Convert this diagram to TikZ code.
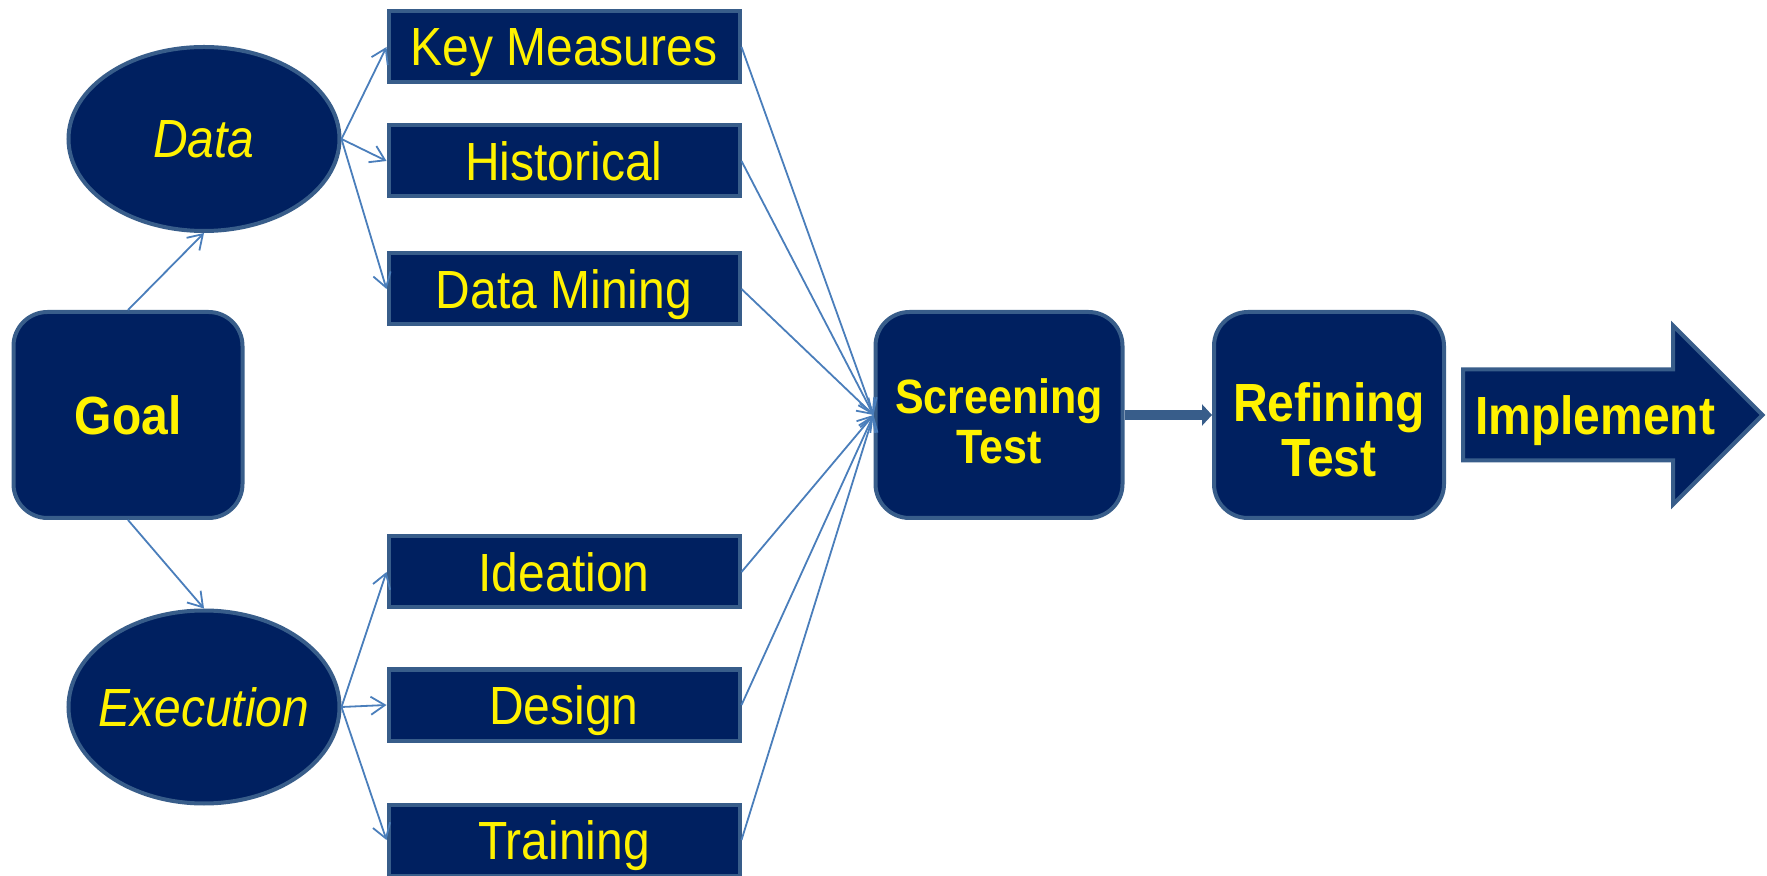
\documentclass[tikz,border=0pt]{standalone}
\usepackage{fontspec}
\setmainfont{Liberation Sans}
\usepackage{graphicx}
\usetikzlibrary{calc, positioning, shapes, arrows, arrows.meta}
\definecolor{navy}{RGB}{0,32,96}
\definecolor{rim}{RGB}{56,93,138}
\definecolor{linkblue}{RGB}{74,126,187}
\newcommand{\lbl}[1]{\scalebox{1}[1.12]{#1}}
\tikzstyle{block}=[draw=rim, fill=navy, line width=2pt, text=yellow, inner sep=0pt, text depth=0pt, font=\fontsize{24}{27}\selectfont]
\tikzstyle{item box}=[block, minimum width=175.5pt, minimum height=35.5pt]
\tikzstyle{stage}=[block, rounded corners=17pt, minimum height=103pt, align=center, font=\fontsize{24}{27.5}\selectfont\bfseries]
\tikzstyle{source}=[block, ellipse, minimum width=135.5pt, minimum height=92pt, font=\fontsize{24}{27}\selectfont\itshape]
\tikzstyle{link}=[draw=linkblue, line width=0.9pt, -{Straight Barb[length=7pt,width=9pt]}]

\begin{document}
\begin{tikzpicture}[x=0.5pt, y=-0.5pt]
			\useasboundingbox (0,0) rectangle (1767,876);

			% Goal and the two branches
			\node[stage, minimum width=114.5pt] (goal) at (128,415) {\lbl{Goal}};
			\node[source] (data) at (204,139) {\makebox[0pt]{\lbl{Data}}};
			\node[source, minimum height=96.5pt] (exec) at (204,707) {\makebox[0pt]{\lbl{Execution}}};

			% Draw the data boxes
			\foreach \name / \y / \txt in {key/47/Key Measures, hist/161/Historical, mine/289/Data Mining}
			\node[item box] (\name) at (564,\y) {\lbl{\txt}};

			% Draw the execution boxes
			\foreach \name / \y / \txt in {idea/572/Ideation, design/705/Design, train/840/Training}
			\node[item box] (\name) at (564,\y) {\lbl{\txt}};

			% Tests and the final arrow (struts on the first lines push the text down a bit)
			\node[stage, minimum width=123.5pt, font=\fontsize{21.5}{25}\selectfont\bfseries] (screen) at (999,415) {\rule{0pt}{23.2pt}\lbl{Screening}\\\lbl{Test}};
			\node[stage, minimum width=115pt] (refine) at (1329,415) {\rule{0pt}{34.4pt}\lbl{Refining}\\\lbl{Test}};
			\node[block, single arrow, anchor=tail, minimum height=148pt, text height=31.4pt, text depth=12.1pt,
				single arrow head extend=22pt, font=\fontsize{24}{27}\selectfont\bfseries] (impl) at (1461,415) {\hspace{5pt}\lbl{Implement}\hspace{-5pt}};

			% Connect goal to data and execution
			\draw[link] (goal.north) -- (data.south);
			\draw[link] (goal.south) -- (exec.north);

			\foreach \dest in {key,hist,mine}
			\draw[link] (data.east) -- (\dest.west);
			\foreach \dest in {idea,design,train}
			\draw[link] (exec.east) -- (\dest.west);

			% Every box feeds the screening test
			\foreach \source in {key,hist,mine,idea,design,train}
			\draw[link] (\source.east) -- (screen.west);

			\draw[rim, line width=4.7pt, -{Triangle[length=5pt,width=10.5pt]}] (screen) -- (refine);
		\end{tikzpicture}
\end{document}
